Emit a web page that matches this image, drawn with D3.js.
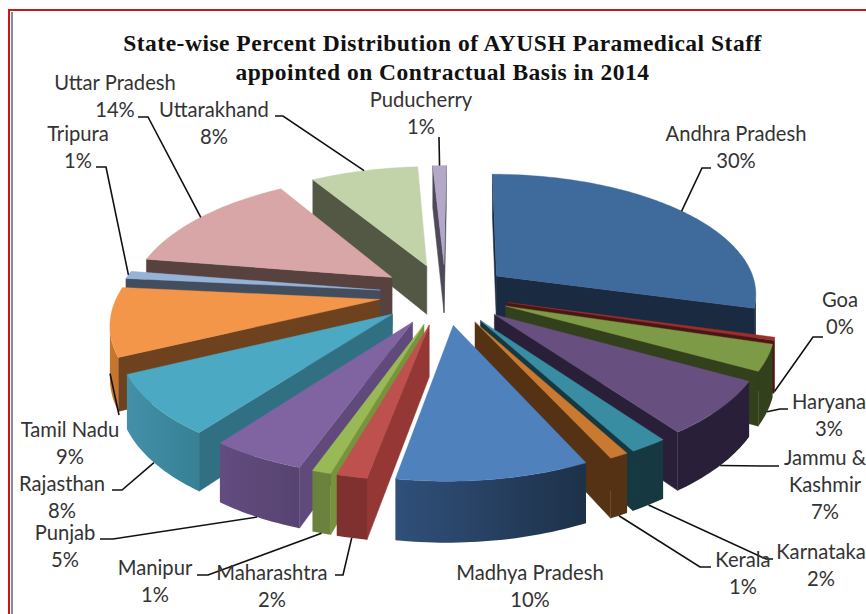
<!DOCTYPE html>
<html><head><meta charset="utf-8">
<script src="https://cdnjs.cloudflare.com/ajax/libs/d3/7.8.5/d3.min.js"></script>
<style>html,body{margin:0;padding:0;background:#fff;overflow:hidden}svg{display:block}</style>
</head><body><svg id="c" width="866" height="614"></svg>
<script>
const states=["Andhra Pradesh","Goa","Haryana","Jammu & Kashmir","Karnataka","Kerala","Madhya Pradesh","Maharashtra","Manipur","Punjab","Rajasthan","Tamil Nadu","Tripura","Uttar Pradesh","Uttarakhand","Puducherry"];
const percent=[30,0.4,3.4,7,2,1,10,1.6,1,5,8,9,1,14,8,1];
const titleLines=["State-wise Percent Distribution of AYUSH Paramedical Staff","appointed on Contractual Basis in 2014"];

// styling per slice: top, radial wall, outer wall (left end, right end)
const topColors=["#3F6A9C","#9B2F2C","#7D9A47","#674F80","#398DA3","#C97A30","#4F81BD","#BE504D","#98B955","#8064A2","#4BA9C4","#F4964A","#95B3D7","#D8A6A6","#C3D3A9","#B3A8C7"];
const wallColors=["#1A2A40","#4A1614","#33401C","#2A1F38","#163840","#553214","#1F3550","#953735","#77933C","#604A7B","#317082","#6E421E","#424D5E","#574240","#525844","#4E4958"];
const outerA=["#1A2A40","#7A2A28","#33401C","#2A1F38","#163840","#553214","#30507A","#7F312F","#6B823C","#624C80","#4390A8","#C4762F","#424D5E","#574240","#525844","#4E4958"];
const outerB=["#1A2A40","#7A2A28","#33401C","#2A1F38","#163840","#553214","#1D3149","#7F312F","#6B823C","#574370","#378095","#C4762F","#424D5E","#574240","#525844","#4E4958"];

// label layout: text lines, centre x, first baseline, leader line end / elbow, anchor depth on the slice
const labelLines=[["Andhra Pradesh","30%"],["Goa","0%"],["Haryana","3%"],["Jammu &","Kashmir","7%"],["Karnataka","2%"],["Kerala","1%"],["Madhya Pradesh","10%"],["Maharashtra","2%"],["Manipur","1%"],["Punjab","5%"],["Rajasthan","8%"],["Tamil Nadu","9%"],["Tripura","1%"],["Uttar Pradesh","14%"],["Uttarakhand","8%"],["Puducherry","1%"]];
const labelX=[736,840,829,825,821,743,530,272,155,65,62,70,78,115,214,421];
const labelY=[141,307,409,465,559,567,580,580,575,540,491,437,141,90,117,107];
const leaderPaths=[[[711,168],[702,168]],[[823,337],[813,337]],[[788,409],[780,409]],[[779,466],[766,466]],[[773,559],[766,559]],[[711,567],[700,567]],null,[[335,575],[343,575]],[[197,575],[208,575]],[[100,539],[113,539]],[[112,490],[122,490]],[[119,415]],[[96,167],[106,167]],[[138,117],[148,117]],[[275,116],[283,116]],[[439,137]]];
const leaderDepth=[0,1,1,1,1,1,0,1,1,1,1,1,0,0,0,0];

const svg=d3.select("#c");
const defs=svg.append("defs");
const cx=448,cy=294,Rx=262,Ry=122,depth=50,persp=.15,explode=.25,skew=2.25;
const xs=d3.scaleLinear().domain([0,1]).range([0,Rx]);
const ys=d3.scaleLinear().domain([0,1]).range([0,Ry]);
function project(u,v,z){const s=1/(1-persp*v);const d=v+1.2;return [cx+xs(u)*s-skew*d*d,cy+s*(ys(v)+depth*z)];}

const pie=d3.pie().sort(null).value(d=>d).startAngle(0).endAngle(2*Math.PI);
const arcs=pie(percent).map((a,i)=>({...a,i,mid:(a.startAngle+a.endAngle)/2}));
function sp(a,ang,r,z){
  const u=explode*Math.sin(a.mid)+r*Math.sin(ang), v=-explode*Math.cos(a.mid)-r*Math.cos(ang);
  return project(u,v,z);
}
const line=d3.line();
const area=p=>{let s=0;p.forEach((q,i)=>{const n=p[(i+1)%p.length];s+=q[0]*n[1]-n[0]*q[1];});return s;};
const g=svg.append("g");
function face(p,col){if(area(p)>0)g.append("path").attr("d",line(p)+"Z").attr("fill",col).attr("stroke",col).attr("stroke-width",.5).attr("stroke-linejoin","round");}

[...arcs].sort((a,b)=>(-Math.cos(a.mid))-(-Math.cos(b.mid))).forEach(a=>{
  const i=a.i;
  face([sp(a,a.endAngle,0,0),sp(a,a.endAngle,1,0),sp(a,a.endAngle,1,1),sp(a,a.endAngle,0,1)],wallColors[i]);
  face([sp(a,a.startAngle,1,0),sp(a,a.startAngle,0,0),sp(a,a.startAngle,0,1),sp(a,a.startAngle,1,1)],wallColors[i]);
  const n=Math.max(2,Math.ceil((a.endAngle-a.startAngle)/.02));
  const at=d3.scaleLinear().domain([0,n]).range([a.startAngle,a.endAngle]);
  const facing=d3.range(n).filter(k=>area([sp(a,at(k+1),1,0),sp(a,at(k),1,0),sp(a,at(k),1,1),sp(a,at(k+1),1,1)])>0);
  if(facing.length){
    const idx=[...facing,facing[facing.length-1]+1];
    const upper=idx.map(k=>sp(a,at(k),1,0)), lower=idx.map(k=>sp(a,at(k),1,1)).reverse();
    const poly=upper.concat(lower);
    const ex=d3.extent(poly,p=>p[0]);
    const id="o"+i;
    const gr=defs.append("linearGradient").attr("id",id).attr("gradientUnits","userSpaceOnUse").attr("x1",ex[0]).attr("x2",ex[1]).attr("y1",0).attr("y2",0);
    gr.append("stop").attr("offset",0).attr("stop-color",outerA[i]);
    gr.append("stop").attr("offset",1).attr("stop-color",outerB[i]);
    g.append("path").attr("d",line(poly)+"Z").attr("fill","url(#"+id+")");
  }
  const topPts=[sp(a,a.startAngle,0,0)].concat(d3.range(n+1).map(k=>sp(a,at(k),1,0)));
  g.append("path").attr("d",line(topPts)+"Z").attr("fill",topColors[i]).attr("stroke",topColors[i]).attr("stroke-width",.4);
});

// leaders
arcs.forEach(a=>{
  const l=leaderPaths[a.i]; if(!l) return;
  const pts=[...l,sp(a,a.mid,1,leaderDepth[a.i])];
  svg.append("path").attr("d",line(pts)).attr("fill","none").attr("stroke","#111").attr("stroke-width",1.6);
});

// labels
labelLines.forEach((ls,i)=>{
  ls.forEach((t,j)=>svg.append("text").attr("x",labelX[i]).attr("y",labelY[i]+j*27.2).attr("text-anchor","middle")
    .attr("font-family","Lato, 'Open Sans', sans-serif").attr("font-size",20.2).attr("fill","#333").text(t));
});

// title
titleLines.forEach((t,j)=>svg.append("text").attr("x",442.5).attr("y",50.5+j*29.5).attr("text-anchor","middle")
  .attr("font-family","'Liberation Serif', serif").attr("font-weight","bold").attr("font-size",23.5).attr("letter-spacing",".5").attr("fill","#111").text(t));

// frame
svg.append("path").attr("d","M9,614V10H866").attr("fill","none").attr("stroke","#C8161C").attr("stroke-width",2);
svg.append("path").attr("d","M12,614V12").attr("fill","none").attr("stroke","#8c8c8c").attr("stroke-width",2);
</script></body></html>
